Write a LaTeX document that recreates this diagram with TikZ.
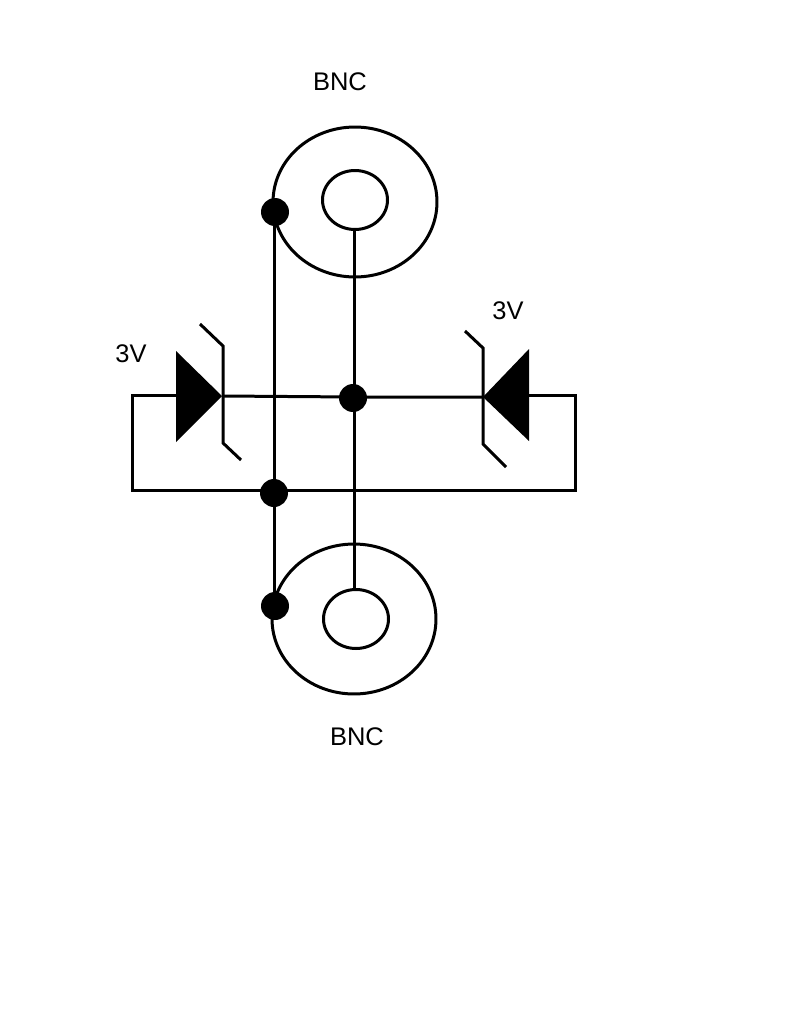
\documentclass[tikz,border=0pt]{standalone}
\usepackage{fontspec}
\setmainfont{Liberation Sans}
\usetikzlibrary{shapes.geometric,positioning}

\begin{document}
\begin{tikzpicture}[
    x=0.02cm, y=-0.02cm,
    wire/.style={draw, line width=0.06cm},
    shell/.style={draw, ellipse, line width=0.06cm, inner sep=0pt, minimum width=3.28cm, minimum height=3cm},
    pin/.style={draw, ellipse, line width=0.06cm, inner sep=0pt, minimum width=1.3cm, minimum height=1.18cm},
    dot/.style={draw=none, fill=black, circle, inner sep=0pt, minimum size=0.56cm},
    label/.style={font=\fontsize{14.5pt}{16pt}\selectfont, inner sep=0pt}
]
    \useasboundingbox (0,0) rectangle (791,1024);

    \node [shell] (topshell) at (355,202) {};
    \node [pin] (toppin) at (355,200) {};
    \node [shell] (botshell) at (354,619) {};
    \node [pin] (botpin) at (356,619) {};

    \node [dot] (topdot) at (275,212) {};
    \node [dot] (hub) at (353,398) {};
    \node [dot] (gnd) at (274,493) {};
    \node [dot] (botdot) at (275,606) {};

    \coordinate (trunk) at (354,397);
    \coordinate (rail) at (274,490.5);
    \coordinate (lefttip) at (222,396);
    \coordinate (leftback) at (176,395);
    \coordinate (rightback) at (529,395);
    \coordinate (righttip) at (483,397);

    % diodes
    \fill (176,351) -- (lefttip) -- (176,442) -- cycle;
    \fill (529,349) -- (righttip) -- (529,441) -- cycle;
    \draw [wire] (200,324) -- (223,346) -- (223,443) -- (241,460);
    \draw [wire] (465,331) -- (483,348) -- (483,444) -- (506,467);

    % wires
    \draw [wire] (topdot -| gnd) -- (botdot -| gnd);
    \draw [wire] (toppin.south -| trunk) -- (botpin.north -| trunk);
    \draw [wire] (lefttip) -- (trunk) -- (righttip);
    \draw [wire] (leftback) -- (132,395) |- (rail) -| (575,395) -- (rightback);

    \node [label] (bnctop) at (340,82) {BNC};
    \node [label] (bncbot) at (357,737) {BNC};
    \node [label] (vleft) at (131,354) {3V};
    \node [label] (vright) at (508,311) {3V};
\end{tikzpicture}
\end{document}
